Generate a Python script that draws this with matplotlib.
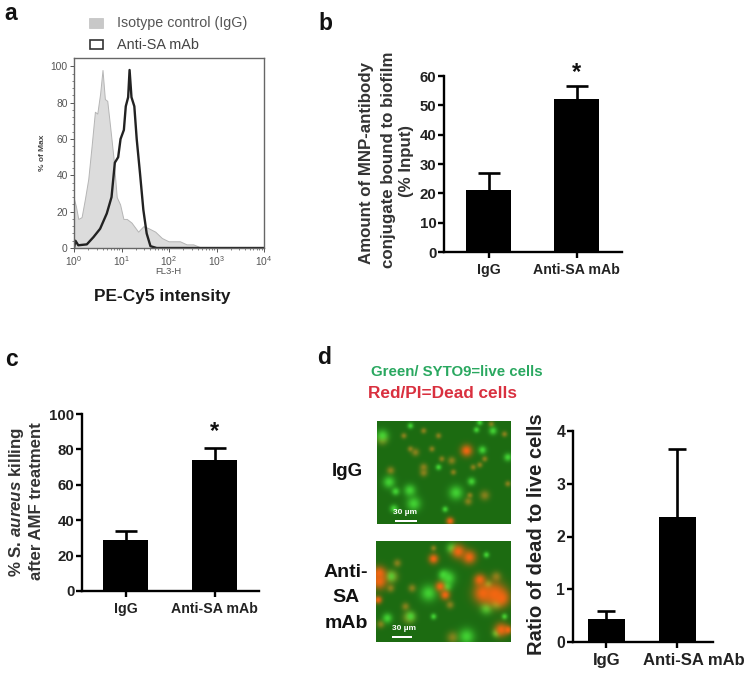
import numpy as np
import matplotlib
matplotlib.use("Agg")
import matplotlib.pyplot as plt
from matplotlib.patches import Rectangle
from matplotlib.transforms import ScaledTranslation

plt.rcParams["font.family"] = ["Liberation Sans", "DejaVu Sans"]
plt.rcParams["mathtext.fontset"] = "custom"
plt.rcParams["mathtext.rm"] = "Liberation Sans"
plt.rcParams["mathtext.bfit"] = "Liberation Sans:italic:bold"

W, H = 750, 674

# panel a: flow cytometry histograms (x in decades of FL3-H)
igg_dec = [0, .04, .09, .16, .23, .30, .37, .44, .49, .55, .60, .65, .70, .76, .83, .90, .97, 1.04,
           1.11, 1.21, 1.35, 1.46, 1.56, 1.71, 1.85, 1.99, 2.23, 2.37, 2.51, 2.65, 4]
igg_pct = [27, 23, 16, 17, 27, 38, 56, 75, 74, 85, 98, 82, 81, 67, 50, 28, 24, 16,
           16, 14, 9, 12, 11, 9, 5.5, 3.7, 3.7, 2, 2, .5, 0]
anti_dec = [0, .03, .09, .27, .41, .55, .69, .79, .86, .93, .98, 1.05, 1.09, 1.14, 1.17, 1.21,
            1.27, 1.32, 1.39, 1.46, 1.53, 1.61, 1.74, 4]
anti_pct = [0, 4, 1.5, 2, 6, 10.6, 19, 28, 47, 50, 60, 65, 78, 83, 98, 83,
            78, 60, 41, 21, 8, 1, 0, 0]

# bar panels
categories = ["IgG", "Anti-SA mAb"]
b_vals = [21, 52]
b_errs = [6, 4.5]
c_vals = [29, 74]
c_errs = [5, 7]
d_vals = [0.43, 2.37]
d_errs = [0.15, 1.28]

# microscopy spots, (x, y, size) in the 3x zoom coordinates of each image
img1_green = [(338, 103, 4), (55, 200, 6), (75, 228, 4), (118, 225, 6), (258, 232, 7), (130, 265, 7),
              (70, 280, 4), (305, 198, 4), (415, 125, 4), (370, 45, 4), (120, 30, 3), (320, 42, 3),
              (225, 282, 3), (205, 155, 3), (330, 20, 3), (35, 60, 6)]
img1_orange = [(160, 155, 4), (160, 172, 4), (60, 165, 4), (245, 135, 4), (310, 155, 3), (345, 240, 5),
               (215, 130, 3), (135, 110, 4), (100, 60, 3), (160, 45, 3), (300, 240, 3), (345, 130, 3),
               (365, 25, 3), (405, 55, 3), (330, 148, 3), (295, 258, 4), (250, 170, 3), (120, 100, 3),
               (415, 205, 3), (185, 100, 3), (205, 60, 3), (35, 72, 5)]
img1_red = [(290, 105, 6), (240, 318, 4)]
img2_green = [(175, 175, 8), (235, 130, 7), (220, 120, 5), (230, 155, 5), (350, 220, 6), (290, 305, 8),
              (50, 250, 5), (120, 245, 5), (380, 205, 5), (355, 150, 4), (245, 40, 5), (60, 125, 5),
              (405, 245, 3), (380, 295, 4), (190, 245, 3), (350, 60, 3)]
img2_orange = [(65, 125, 6), (115, 248, 6), (105, 215, 4), (80, 85, 4), (125, 160, 4), (30, 268, 4),
               (248, 308, 6), (380, 125, 5), (190, 40, 3), (60, 160, 4), (240, 210, 4)]
img2_red = [(25, 115, 7), (25, 140, 8), (22, 195, 4), (265, 50, 7), (298, 67, 7), (190, 72, 5),
            (340, 175, 10), (375, 178, 12), (395, 190, 8), (330, 135, 6), (210, 155, 5), (225, 180, 5),
            (395, 285, 7), (415, 285, 4)]


def px_axes(left, top, right, bottom):
    return fig.add_axes([left / W, 1 - bottom / H, (right - left) / W, (bottom - top) / H])


def ftext(x, y, s, **kw):
    kw.setdefault("ha", "center")
    kw.setdefault("va", "center")
    return fig.text(x / W, 1 - y / H, s, **kw)


def bar_panel(box, xlim, ylim, yticks, vals, errs, width, cap, fs, yfs):
    ax = px_axes(*box)
    ax.bar([0, 1], vals, width=width, color="black")
    _, caps, _ = ax.errorbar([0, 1], vals, yerr=[[0, 0], errs], fmt="none", ecolor="black",
                             elinewidth=1.9, capsize=cap, capthick=1.9)
    caps[0].set_visible(False)
    ax.set_xlim(*xlim)
    ax.set_ylim(*ylim)
    ax.set_yticks(yticks)
    ax.set_xticks([0, 1])
    ax.set_xticklabels(categories, fontsize=fs, fontweight="bold", color="#222222")
    for t in ax.get_yticklabels():
        t.set_fontweight("bold")
        t.set_fontsize(yfs)
        t.set_color("#222222")
    ax.tick_params(width=1.7, length=4, pad=1.5)
    ax.tick_params(axis="x", pad=4)
    ax.spines[["top", "right"]].set_visible(False)
    ax.spines[["left", "bottom"]].set_linewidth(1.7)
    return ax


def micro_image(box, zoom_box, green, orange, red):
    x0, y0, x1, y1 = zoom_box
    nx, ny = box[2] - box[0], box[3] - box[1]
    xx, yy = np.meshgrid(np.linspace(x0, x1, nx), np.linspace(y0, y1, ny))
    img = np.ones((ny, nx, 3)) * np.array([0.11, 0.42, 0.07])
    for spots, col, peak in [(orange, (0.60, 0.52, 0.12), 0.8), (green, (0.28, 0.88, 0.22), 0.85),
                             (red, (0.97, 0.40, 0.07), 0.95)]:
        for sx, sy, sr in spots:
            a = peak * np.exp(-((xx - sx) ** 2 + (yy - sy) ** 2) / (2 * (sr * 2.1) ** 2))[..., None]
            img = img * (1 - a) + np.array(col) * a
    ax = px_axes(*box)
    ax.imshow(img, aspect="auto", interpolation="bilinear")
    ax.axis("off")
    return ax


fig = plt.figure(figsize=(W / 100, H / 100), dpi=100)

# panel letters
for x, y, s in [(11, 13, "a"), (325, 24, "b"), (11, 359, "c"), (324, 357, "d")]:
    ftext(x, y, s, fontsize=16.5, fontweight="bold", color="#111111")

# panel a
ax = px_axes(74, 58, 264, 248)
ax.fill_between(10.0 ** np.array(igg_dec), igg_pct, color="#dcdcdc", edgecolor="#b5b5b5", linewidth=0.7)
ax.plot(10.0 ** np.array(anti_dec), anti_pct, color="#222222", linewidth=1.7)
ax.set_xscale("log")
ax.set_xlim(1, 1e4)
ax.set_ylim(0, 104.6)
ax.set_yticks([0, 20, 40, 60, 80, 100])
ax.set_yticks(np.arange(0, 101, 4), minor=True)
ax.tick_params(labelsize=7.4, colors="#555555", length=3, width=0.7, pad=1.5)
ax.tick_params(which="minor", length=1.5, width=0.5, colors="#555555")
for s in ax.spines.values():
    s.set_color("#666666")
    s.set_linewidth(1)
ftext(168, 272, "FL3-H", fontsize=6.8, color="#555555")
ftext(43, 153, "% of Max", fontsize=6, color="#444444", rotation=90, fontweight="bold")
ftext(162, 297, "PE-Cy5 intensity", fontsize=12.4, fontweight="bold", color="#1a1a1a")
fig.add_artist(Rectangle((89 / W, 1 - 28 / H), 14 / W, 10 / H, transform=fig.transFigure,
                         facecolor="#c8c8c8", edgecolor="#c0c0c0", linewidth=0.5))
fig.add_artist(Rectangle((90 / W, 1 - 49 / H), 13 / W, 9 / H, transform=fig.transFigure,
                         facecolor="white", edgecolor="#333333", linewidth=1.2))
ftext(117, 23, "Isotype control (IgG)", fontsize=10.3, ha="left", color="#555555")
ftext(117, 45, "Anti-SA mAb", fontsize=10.4, ha="left", color="#444444")

# panel b
bar_panel((444, 76, 622, 252), (-0.506, 1.517), (0, 60), [0, 10, 20, 30, 40, 50, 60], b_vals, b_errs, 0.51, 8, 10.2, 10.8)
ftext(367, 163, "Amount of MNP-antibody", fontsize=12.2, fontweight="bold", rotation=90, color="#333333")
ftext(388, 160, "conjugate bound to biofilm", fontsize=12.2, fontweight="bold", rotation=90, color="#333333")
ftext(407, 161, "(% Input)", fontsize=12.2, fontweight="bold", rotation=90, color="#333333")
ftext(577, 73, "*", fontsize=17, fontweight="bold", color="#111111")

# panel c
bar_panel((82, 414, 259, 591), (-0.489, 1.5), (0, 100), [0, 20, 40, 60, 80, 100], c_vals, c_errs, 0.51, 8, 10.2, 10.8)
ftext(17, 502, r"% S. $\mathbfit{aureus}$ killing", fontsize=12.2, fontweight="bold", rotation=90, color="#333333")
ftext(37, 501, "after AMF treatment", fontsize=12.1, fontweight="bold", rotation=90, color="#333333")
ftext(214, 432, "*", fontsize=17, fontweight="bold", color="#111111")

# panel d
ax = bar_panel((573, 431, 713, 642), (-0.47, 1.5), (0, 4), [0, 1, 2, 3, 4], d_vals, d_errs, 0.52, 6.5, 12, 11.3)
ax.get_xticklabels()[1].set_transform(ax.get_xticklabels()[1].get_transform()
                                      + ScaledTranslation(16 / 100, 0, fig.dpi_scale_trans))
ftext(536, 534, "Ratio of dead to live cells", fontsize=14.5, fontweight="bold", rotation=90, color="#222222")
ftext(457, 372, "Green/ SYTO9=live cells", fontsize=10.8, fontweight="bold", color="#2aa860")
ftext(443, 393, "Red/PI=Dead cells", fontsize=12.4, fontweight="bold", color="#d9303f")
ftext(347, 472, "IgG", fontsize=13.5, fontweight="bold", color="#111111")
ftext(346, 598, "Anti-\nSA\nmAb", fontsize=14, fontweight="bold", color="#111111", linespacing=1.64)

micro_image((377, 421, 511, 524), (20, 17, 423, 325), img1_green, img1_orange, img1_red)
micro_image((376, 541, 511, 642), (17, 17, 423, 320), img2_green, img2_orange, img2_red)
ftext(405, 513, "30 µm", fontsize=6, color="white", fontweight="bold")
ftext(404, 629, "30 µm", fontsize=6, color="white", fontweight="bold")
fig.add_artist(Rectangle((395 / W, 1 - 522 / H), 22 / W, 2 / H, transform=fig.transFigure, facecolor="white"))
fig.add_artist(Rectangle((392 / W, 1 - 638 / H), 20 / W, 2 / H, transform=fig.transFigure, facecolor="white"))

fig.savefig("out.png", dpi=100)
